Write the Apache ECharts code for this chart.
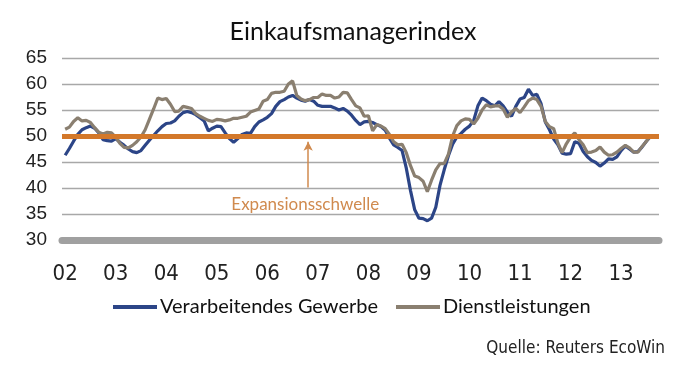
<!DOCTYPE html>
<html>
<head>
<meta charset="utf-8">
<script src="https://cdn.jsdelivr.net/npm/echarts@6/dist/echarts.min.js"></script>
<style>html,body{margin:0;padding:0;background:#fff}#c{width:681px;height:369px}</style>
</head>
<body>
<div id="c"></div>
<script>
// Monthly values, Jan 2002 .. Aug 2013
var manufacturing = [
46.3,47.6,49.0,50.3,51.2,51.6,51.9,51.5,50.6,49.3,49.1,49.0,
49.5,48.8,48.2,47.5,47.0,46.8,47.2,48.2,49.2,50.1,51.0,51.8,
52.4,52.5,52.9,53.8,54.5,54.7,54.5,54.1,53.5,52.9,51.0,51.5,
51.9,51.8,50.6,49.5,48.8,49.5,50.3,50.6,50.5,51.8,52.7,53.1,
53.6,54.3,55.7,56.6,57.0,57.5,57.8,57.3,56.9,56.7,57.0,56.7,
55.9,55.7,55.7,55.7,55.4,55.0,55.3,54.8,54.0,53.0,52.2,52.7,
52.8,52.6,52.2,51.8,51.1,49.6,48.3,47.8,47.2,43.8,39.5,35.8,
34.2,34.1,33.7,34.2,36.3,40.5,43.5,46.2,48.4,49.8,50.5,51.3,
51.9,53.0,55.8,57.3,56.8,56.1,55.8,56.6,55.8,54.6,53.8,55.7,
57.1,57.4,59.0,57.8,58.0,56.2,52.7,51.2,49.4,48.3,46.7,46.5,
46.6,48.9,48.6,47.0,46.0,45.3,44.9,44.2,44.8,45.6,45.5,46.0,
47.2,48.1,47.5,46.9,47.0,47.9,49.0,49.9
];
var services = [
51.3,51.7,52.8,53.5,52.9,53.0,52.6,51.6,50.7,50.4,50.7,50.6,
49.8,48.6,47.8,47.7,48.2,48.9,49.8,51.2,53.2,55.2,57.3,57.0,
57.2,56.1,54.7,54.8,55.7,55.5,55.3,54.3,53.8,53.4,53.0,52.8,
53.2,53.1,52.9,53.1,53.4,53.4,53.6,53.8,54.6,54.9,55.2,56.7,
57.0,58.2,58.4,58.4,58.6,60.0,60.6,57.8,57.1,56.8,57.0,57.4,
57.4,58.1,57.8,57.8,57.3,57.5,58.4,58.3,57.0,55.8,55.4,53.8,
53.9,51.0,52.2,51.9,51.4,50.3,48.9,48.3,48.4,46.8,44.3,42.3,
42.0,41.3,39.3,41.5,43.5,44.7,44.7,46.5,50.0,52.0,52.9,53.3,
53.2,52.3,53.4,55.0,56.0,55.6,55.8,55.8,55.2,53.6,54.6,55.3,
54.5,55.6,56.8,57.3,57.0,55.7,52.8,51.8,51.4,48.6,46.8,48.5,
49.8,50.6,49.3,48.3,46.8,46.9,47.2,47.9,46.9,46.3,46.4,46.9,
47.6,48.2,47.7,46.9,46.9,48.0,49.0,50.0
];
var yearLabels = ['02','03','04','05','06','07','08','09','10','11','12','13'];
var seriesNames = ['Verarbeitendes Gewerbe','Dienstleistungen'];
var threshold = 50;
var annotationText = 'Expansionsschwelle';

function pairs(arr){ return arr.map(function(v,i){ return [i,v]; }); }
var labelPos = yearLabels.map(function(_,k){ return k*12; });

var chart = echarts.init(document.getElementById('c'), null, {renderer:'canvas'});
var narrow = '"Liberation Sans Narrow","DejaVu Sans Condensed",sans-serif';
chart.setOption({
  animation:false,
  backgroundColor:'#fff',
  title:{
    text:'Einkaufsmanagerindex', left:348, top:14,
    textAlign:'center',
    textStyle:{fontFamily:'Lato',fontWeight:'normal',fontSize:25,color:'#111'}
  },
  legend:{
    left:108, top:292, itemWidth:44, itemHeight:4, itemGap:18,
    icon:'rect',
    textStyle:{fontFamily:'Lato',fontSize:20,color:'#111',padding:[0,0,0,-2]},
    data:seriesNames
  },
  graphic:[{
    type:'text', right:16, top:340,
    style:{text:'Quelle: Reuters EcoWin', font:'17px '+narrow, fill:'#222'}
  }],
  grid:{left:62, right:22, top:58, bottom:129, containLabel:false},
  xAxis:{
    type:'value', min:-0.75, max:141,
    axisLine:{show:true, onZero:false, lineStyle:{color:'#a0a0a0', width:7, cap:'round'}},
    axisTick:{show:false},
    splitLine:{show:false},
    axisLabel:{
      customValues:labelPos, margin:23,
      formatter:function(v){ return yearLabels[Math.round(v/12)]; },
      fontFamily:narrow, fontSize:22, color:'#222'
    }
  },
  yAxis:{
    type:'value', min:30, max:65, interval:5,
    axisLine:{show:false}, axisTick:{show:false},
    splitLine:{lineStyle:{color:'#a8a8a8', width:1.3}},
    axisLabel:{fontFamily:'Liberation Sans',fontSize:19,color:'#222',margin:15}
  },
  series:[
    {name:seriesNames[0], type:'line', data:pairs(manufacturing), showSymbol:false,
     lineStyle:{color:'#2c4587', width:3.2}, itemStyle:{color:'#2c4587'}, z:3},
    {name:seriesNames[1], type:'line', data:pairs(services), showSymbol:false,
     lineStyle:{color:'#8a7f70', width:3.2}, itemStyle:{color:'#8a7f70'}, z:4},
    {name:'thr', type:'line', data:[], z:6, silent:true,
     markLine:{
       silent:true, symbol:['none','none'], animation:false,
       label:{show:false},
       lineStyle:{color:'#d3782a', width:5, type:'solid'},
       data:[{yAxis:threshold}]
     }},
    {name:'anno', type:'line', data:[], z:7, silent:true,
     markLine:{
       silent:true, symbol:['none','arrow'], symbolSize:[7,9], animation:false,
       label:{show:false},
       lineStyle:{color:'#d08a4e', width:1.5, type:'solid'},
       data:[[{coord:[57.7,40.1]},{coord:[57.7,48.9]}]]
     },
     markPoint:{
       silent:true, symbol:'circle', symbolSize:0, animation:false,
       label:{show:true, formatter:annotationText, color:'#d08a4e',
              fontFamily:'Lato', fontSize:17, position:'inside'},
       data:[{coord:[57.0,36.8]}]
     }}
  ]
});
</script>
</body>
</html>
